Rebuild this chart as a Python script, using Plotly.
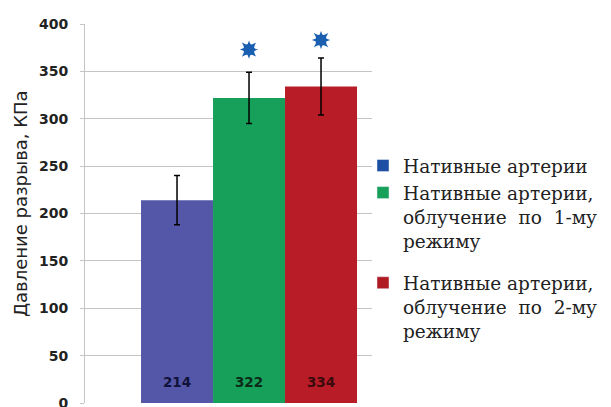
import plotly.graph_objects as go

series_names = [
    "Нативные артерии",
    "Нативные артерии,<br>облучение  по  1-му<br>режиму",
    "Нативные артерии,<br>облучение  по  2-му<br>режиму",
]
legend_groups = ["g1", "g1", "g2"]
values = [214, 322, 334]
errors = [26, 27, 30]
colors = ["#5457a8", "#17a05a", "#b81c26"]
legend_colors = ["#1c4fa3", "#17a05a", "#b01a22"]
label_colors = ["#10123a", "#0b2a18", "#3a0a0c"]
star_positions = [1, 2]
star_values = [373, 383]
y_ticks = [0, 50, 100, 150, 200, 250, 300, 350, 400]
y_title = "Давление разрыва, КПа"
label_y = 20

# page body has an 8px margin: compensate so the plot lands where the reference has it
OFF = 8
PL, PR, PT, PB = 85, 372, 24, 403  # plot area in page pixels
W, H = 611, 407

fig = go.Figure()
for i, (name, v, e, c) in enumerate(zip(series_names, values, errors, colors)):
    fig.add_trace(go.Bar(
        x=[i], y=[v], width=1, name=name,
        marker=dict(color=c, line=dict(width=0)),
        error_y=dict(type="data", array=[e], color="black", thickness=1.5, width=3),
        showlegend=False,
    ))
    fig.add_trace(go.Scatter(
        x=[i], y=[label_y], mode="text", text=[str(v)],
        textfont=dict(family="DejaVu Sans", size=13.5, color=label_colors[i], weight="bold"),
        showlegend=False, hoverinfo="skip",
    ))
    fig.add_trace(go.Bar(
        x=[None], y=[None], name=name, marker=dict(color=legend_colors[i]),
        legendgroup=legend_groups[i], showlegend=True,
    ))

for sym in ["star-square", "star-diamond"]:
    fig.add_trace(go.Scatter(
        x=star_positions, y=star_values, mode="markers",
        marker=dict(symbol=sym, size=13, color="#1a5fb0", line=dict(width=0)),
        showlegend=False, hoverinfo="skip",
    ))
fig.add_trace(go.Scatter(
    x=star_positions, y=star_values, mode="markers",
    marker=dict(symbol="circle", size=10, color="#1a5fb0", line=dict(width=0)),
    showlegend=False, hoverinfo="skip",
))

pw = PR - PL
ph = PB - PT
fig.add_annotation(
    text=y_title, textangle=-90, xref="paper", yref="paper",
    x=(20 - PL) / pw, y=(PB - 204) / ph, xanchor="center", yanchor="middle",
    showarrow=False, font=dict(family="DejaVu Sans", size=18, color="#222"),
)

fig.update_layout(
    width=W, height=H,
    margin=dict(l=PL - OFF, r=W - (PR - OFF), t=PT - OFF, b=H - (PB - OFF), autoexpand=False),
    paper_bgcolor="white", plot_bgcolor="white",
    barmode="overlay",
    xaxis=dict(range=[-1.278, 2.708], showticklabels=False, showgrid=False,
               zeroline=False, showline=False, fixedrange=True),
    yaxis=dict(range=[0, 400], tickvals=y_ticks, showgrid=True, automargin=False,
               gridcolor="#c4c4c4", gridwidth=1, zeroline=False,
               showline=True, linecolor="#c4c4c4", linewidth=1,
               ticks="outside", ticklen=4, tickcolor="#c4c4c4", ticklabelstandoff=9,
               tickfont=dict(family="DejaVu Sans", size=14, color="#222", weight="bold")),
    legend=dict(x=(363 - PL) / pw, y=(PB - 147) / ph, xanchor="left", yanchor="top", valign="top",
                font=dict(family="DejaVu Serif", size=18.5, color="#222"),
                tracegroupgap=15, itemwidth=30, bgcolor="rgba(0,0,0,0)"),
    showlegend=True,
)

fig.write_html("out.html")
